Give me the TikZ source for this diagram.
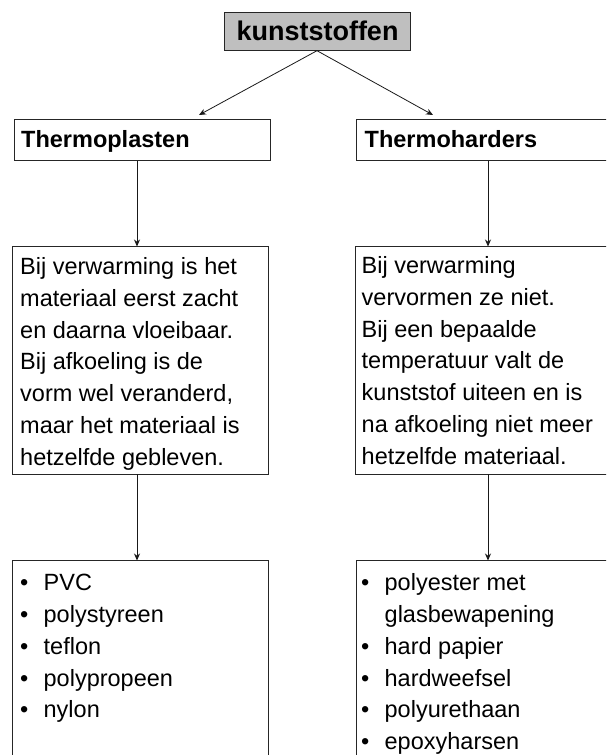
\documentclass[tikz,border=0pt]{standalone}
\usepackage{fontspec}
\setmainfont{Liberation Sans}
\usetikzlibrary{arrows.meta}
\newcommand\lbul{\makebox[23.5pt][l]{\textbullet}}
\newcommand\lind{\makebox[23.5pt][l]{}}
\begin{document}
\begin{tikzpicture}[x=1pt,y=-1pt,
 box/.style={draw=black!85, line width=0.9pt, anchor=north west, inner sep=0pt, outer sep=0pt},
 head/.style={anchor=base west, inner sep=0pt, font=\fontsize{23.5}{28}\selectfont\bfseries},
 body/.style={anchor=north west, inner sep=0pt, align=left, font=\fontsize{23.5}{31.9}\selectfont},
 listtxt/.style={anchor=north west, inner sep=0pt, align=left, font=\fontsize{23.5}{31.8}\selectfont},
 arr/.style={-{Stealth[length=7pt,width=6pt]}, line width=0.8pt, draw=black!90}]
\useasboundingbox (0,0) rectangle (606,755);
\clip (0,0) rectangle (606,755);
% boxes
\node[box, fill=black!25, minimum width=186pt, minimum height=38.4pt] (kbox) at (224,12.3) {};
\node[box, minimum width=256pt, minimum height=41.5pt] (tp) at (14.5,119) {};
\node[box, minimum width=304pt, minimum height=41.5pt] (th) at (356,119) {};
\node[box, minimum width=255.5pt, minimum height=227.5pt] (ml) at (12.5,246.5) {};
\node[box, minimum width=304pt, minimum height=227.5pt] (mr) at (355.7,246.5) {};
\node[box, minimum width=255.5pt, minimum height=240pt] (bl) at (12.5,560.5) {};
\node[box, minimum width=304pt, minimum height=240pt] (br) at (356,560.5) {};
% texts
\node[anchor=base, inner sep=0pt, font=\fontsize{27}{32}\selectfont\bfseries] (kt) at (317.5,40) {kunststoffen};
\node[head] (tpt) at (21,147) {Thermoplasten};
\node[head] (tht) at (364.5,147) {Thermoharders};
\node[body] (mlt) at (20,257) {Bij verwarming is het\\materiaal eerst zacht\\en daarna vloeibaar.\\Bij afkoeling is de\\vorm wel veranderd,\\maar het materiaal is\\hetzelfde gebleven.};
\node[body] (mrt) at (361.5,256) {Bij verwarming\\vervormen ze niet.\\Bij een bepaalde\\temperatuur valt de\\kunststof uiteen en is\\na afkoeling niet meer\\hetzelfde materiaal.};
\node[listtxt] (blt) at (20,574) {\lbul PVC\\\lbul polystyreen\\\lbul teflon\\\lbul polypropeen\\\lbul nylon};
\node[listtxt] (brt) at (361,573.5) {\lbul polyester met\\\lind glasbewapening\\\lbul hard papier\\\lbul hardweefsel\\\lbul polyurethaan\\\lbul epoxyharsen};
% connectors
\coordinate (a1) at (199,115);
\coordinate (a2) at (433,115);
\coordinate (cl) at (137,0);
\coordinate (cr) at (488,0);
\draw[arr] (kbox.south) -- (a1);
\draw[arr] (kbox.south) -- (a2);
\draw[arr] (tp.south -| cl) -- (ml.north -| cl);
\draw[arr] (th.south -| cr) -- (mr.north -| cr);
\draw[arr] (ml.south -| cl) -- (bl.north -| cl);
\draw[arr] (mr.south -| cr) -- (br.north -| cr);
\end{tikzpicture}
\end{document}
